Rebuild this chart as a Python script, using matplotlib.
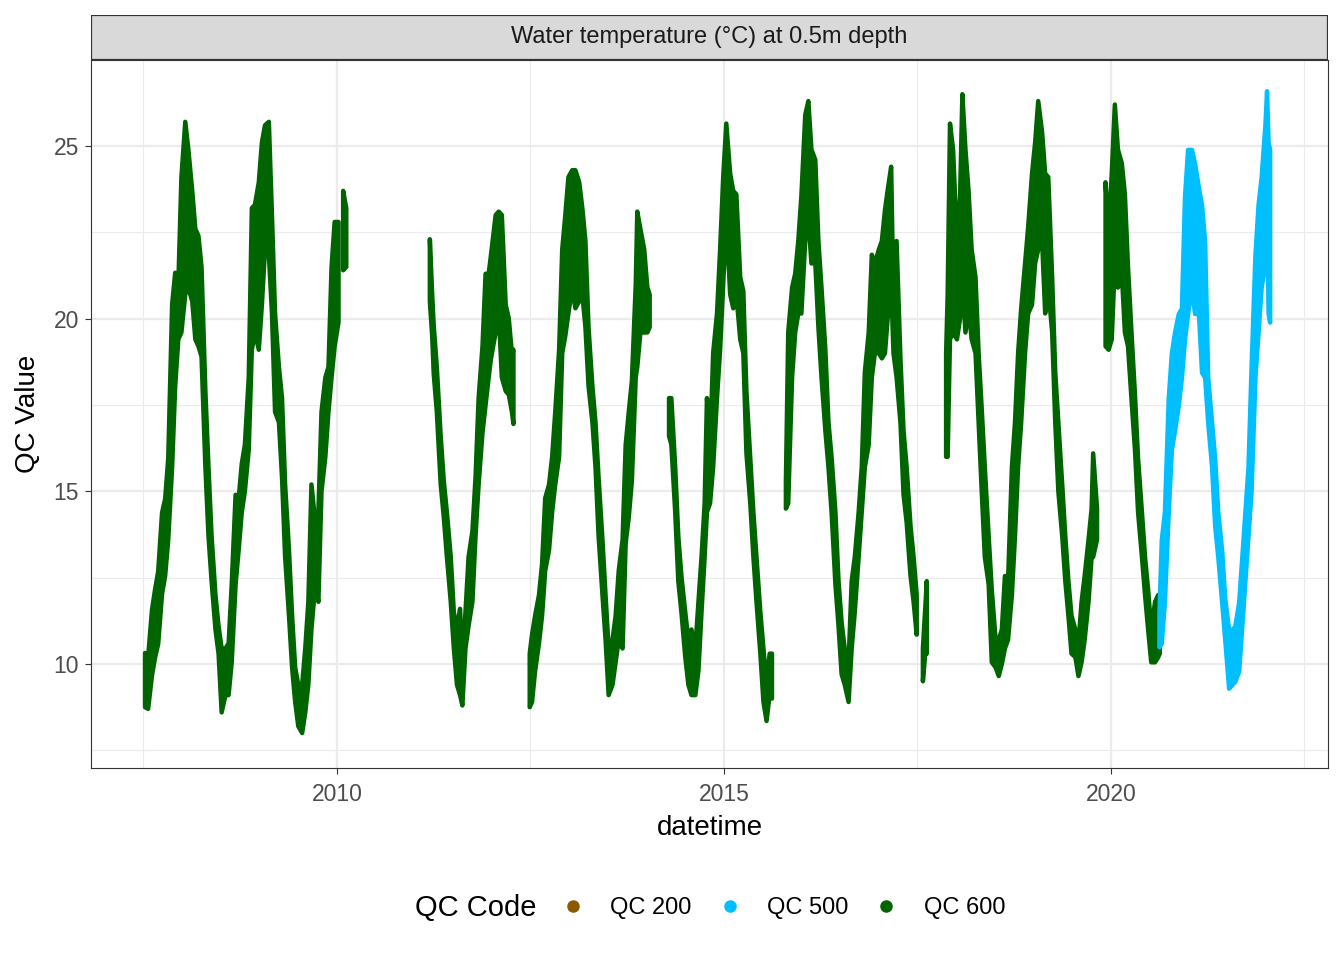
import matplotlib.pyplot as plt
from matplotlib.lines import Line2D
from matplotlib.patches import Rectangle
import numpy as np

# Figure setting
plt.rcParams["font.family"] = ["Liberation Sans", "DejaVu Sans"]
plt.rcParams["figure.dpi"] = 100
plt.rcParams["figure.facecolor"] = "white"

# data: decimal year, lower and upper edge of the daily scatter
# NaN marks a gap in the record
qc600_year = [
    2007.52, 2007.56, 2007.61, 2007.65, 2007.69, 2007.74, 2007.78, 2007.82, 2007.87, 2007.91,
    2007.95, 2007.99, 2008.04, 2008.08, 2008.13, 2008.17, 2008.21, 2008.25, 2008.30, 2008.34,
    2008.38, 2008.43, 2008.47, 2008.51, 2008.56, 2008.60, 2008.64, 2008.69, 2008.73, 2008.77,
    2008.81, 2008.86, 2008.90, 2008.94, 2008.99, 2009.03, 2009.07, 2009.12, 2009.16, 2009.20,
    2009.25, 2009.29, 2009.33, 2009.38, 2009.42, 2009.46, 2009.50, 2009.55, 2009.59, 2009.63,
    2009.67, 2009.72, 2009.76, 2009.80, 2009.85, 2009.89, 2009.93, 2009.97, 2010.02, np.nan,
    2010.08, 2010.12, np.nan,
    2011.20, 2011.23, 2011.25, 2011.29, 2011.34, 2011.38, 2011.42, 2011.47, 2011.51, 2011.55,
    2011.59, 2011.62, 2011.66, 2011.70, 2011.75, 2011.79, 2011.83, 2011.88, 2011.92, 2011.96,
    2011.99, 2012.05, 2012.09, 2012.13, 2012.18, 2012.22, 2012.26, 2012.28, np.nan,
    2012.49, 2012.52, 2012.56, 2012.61, 2012.65, 2012.69, 2012.74, 2012.78, 2012.82, 2012.87,
    2012.91, 2012.95, 2012.99, 2013.04, 2013.08, 2013.13, 2013.17, 2013.21, 2013.25, 2013.30,
    2013.34, 2013.38, 2013.43, 2013.47, 2013.51, 2013.56, 2013.60, 2013.64, 2013.69, 2013.73,
    2013.77, 2013.81, 2013.86, 2013.88, 2013.92, 2013.97, 2014.01, 2014.04, np.nan,
    2014.29, 2014.32, 2014.37, 2014.41, 2014.45, 2014.50, 2014.54, 2014.58, 2014.63, 2014.67,
    2014.71, 2014.75, 2014.78, 2014.82, 2014.86, 2014.91, 2014.95, 2014.99, 2015.03, 2015.08,
    2015.12, 2015.16, 2015.21, 2015.25, 2015.29, 2015.34, 2015.38, 2015.42, 2015.47, 2015.51,
    2015.55, 2015.59, 2015.62, np.nan,
    2015.80, 2015.83, 2015.88, 2015.92, 2015.96, 2016.00, 2016.05, 2016.09, 2016.13, 2016.18,
    2016.22, 2016.26, 2016.31, 2016.35, 2016.39, 2016.44, 2016.48, 2016.52, 2016.56, 2016.61,
    2016.65, 2016.69, 2016.74, 2016.78, 2016.82, 2016.87, 2016.91, 2016.95, 2017.00, 2017.04,
    2017.08, 2017.12, 2017.16, 2017.19, 2017.23, 2017.28, 2017.32, 2017.36, 2017.41, 2017.45,
    2017.49, np.nan,
    2017.57, 2017.60, 2017.62, np.nan,
    2017.87, 2017.89, 2017.92, 2017.96, 2018.01, 2018.05, 2018.08, 2018.12, 2018.16, 2018.20,
    2018.25, 2018.29, 2018.33, 2018.37, 2018.42, 2018.46, 2018.51, 2018.55, 2018.59, 2018.63,
    2018.67, 2018.72, 2018.76, 2018.80, 2018.84, 2018.89, 2018.93, 2018.98, 2019.02, 2019.06,
    2019.11, 2019.15, 2019.19, 2019.24, 2019.28, 2019.32, 2019.37, 2019.41, 2019.45, 2019.49,
    2019.54, 2019.58, 2019.62, 2019.66, 2019.71, 2019.75, 2019.77, 2019.82, np.nan,
    2019.93, 2019.97, 2020.01, 2020.05, 2020.09, 2020.14, 2020.18, 2020.22, 2020.27, 2020.31,
    2020.35, 2020.40, 2020.44, 2020.48, 2020.52, 2020.57, 2020.61, 2020.63,
]
qc600_low = [
    8.75, 8.7, 9.67, 10.19, 10.58, 12.03, 12.55, 13.6, 15.7, 18.05,
    19.4, 19.6, 20.7, 20.9, 20.5, 19.4, 19.2, 18.9, 15.7, 13.7,
    12.4, 11.0, 10.3, 8.6, 9.1, 9.1, 10.05, 12.3, 13.3, 14.4,
    15.0, 16.2, 19.1, 19.6, 19.1, 20.4, 22.0, 21.85, 20.15, 17.3,
    17.0, 15.4, 13.1, 11.4, 9.9, 8.9, 8.2, 8.0, 8.6, 9.4,
    11.0, 12.3, 11.8, 15.0, 16.0, 17.3, 18.3, 19.2, 19.9, np.nan,
    21.4, 21.5, np.nan,
    20.5, 19.5, 18.4, 17.3, 15.2, 14.25, 13.1, 11.8, 10.45, 9.4,
    9.1, 8.8, 10.45, 11.1, 11.8, 13.7, 15.2, 16.7, 17.5, 18.3,
    18.85, 19.6, 20.15, 18.3, 17.9, 17.8, 17.3, 16.95, np.nan,
    8.75, 8.9, 9.8, 10.6, 11.4, 12.7, 13.3, 14.4, 15.2, 16.0,
    19.0, 19.5, 20.15, 20.9, 20.3, 20.5, 20.7, 19.75, 18.05, 17.0,
    15.7, 13.7, 12.0, 10.7, 9.1, 9.4, 10.05, 10.7, 10.45, 13.5,
    14.25, 15.3, 18.3, 18.6, 19.6, 19.6, 19.6, 19.75, np.nan,
    16.6, 16.35, 14.4, 12.4, 11.5, 10.2, 9.4, 9.1, 9.1, 9.8,
    11.5, 13.1, 14.4, 14.65, 15.7, 17.7, 19.1, 21.0, 22.9, 20.7,
    20.3, 20.7, 19.4, 19.0, 16.1, 14.65, 13.1, 11.8, 10.3, 8.9,
    8.35, 9.1, 9.0, np.nan,
    14.5, 14.65, 18.3, 19.6, 20.15, 20.15, 22.25, 22.9, 21.6, 21.6,
    19.75, 18.3, 16.75, 15.7, 14.4, 12.3, 11.1, 9.7, 9.4, 8.9,
    10.45, 11.5, 13.1, 14.4, 15.7, 16.35, 18.3, 19.0, 19.0, 18.85,
    19.0, 20.15, 21.0, 19.0, 18.3, 17.0, 14.9, 14.1, 12.55, 11.8,
    10.85, np.nan,
    9.5, 10.3, 10.3, np.nan,
    16.0, 16.0, 19.4, 19.6, 19.4, 20.0, 21.1, 19.6, 20.3, 19.4,
    19.0, 17.0, 15.0, 13.1, 12.3, 10.05, 9.9, 9.65, 10.0, 10.45,
    10.7, 12.0, 13.7, 15.7, 17.0, 19.0, 20.15, 20.4, 21.6, 22.0,
    22.25, 20.15, 20.9, 19.6, 17.0, 15.0, 13.7, 12.4, 11.4, 10.3,
    10.2, 9.65, 10.05, 10.7, 11.8, 13.1, 13.1, 13.6, np.nan,
    19.2, 19.1, 19.4, 21.6, 20.9, 21.3, 19.6, 19.2, 17.5, 16.2,
    14.4, 13.1, 12.0, 11.0, 10.05, 10.05, 10.2, 10.3,
]
qc600_high = [
    10.32, 10.2, 11.57, 12.16, 12.68, 14.38, 14.78, 15.96, 20.41, 21.33,
    21.0, 24.1, 25.7, 24.9, 23.7, 22.6, 22.4, 21.5, 17.9, 15.7,
    13.7, 12.0, 11.1, 10.45, 10.45, 10.6, 12.3, 14.9, 14.8, 15.8,
    16.35, 18.3, 23.2, 23.3, 23.95, 25.1, 25.6, 25.7, 23.0, 20.15,
    18.6, 17.7, 15.2, 13.3, 11.4, 9.9, 9.4, 9.4, 10.45, 11.8,
    15.2, 14.1, 14.4, 17.3, 18.3, 18.6, 21.5, 22.8, 22.8, np.nan,
    23.7, 23.2, np.nan,
    22.3, 20.7, 19.8, 18.6, 16.6, 15.3, 14.4, 13.1, 11.5, 11.0,
    11.6, 10.05, 11.5, 13.1, 13.85, 15.4, 17.7, 19.2, 21.3, 21.3,
    21.85, 23.0, 23.1, 23.0, 20.4, 20.0, 19.0, 19.1, np.nan,
    10.3, 10.85, 11.4, 12.0, 12.9, 14.8, 15.2, 16.0, 17.3, 19.1,
    22.0, 23.0, 24.1, 24.3, 24.3, 23.95, 23.2, 22.25, 19.75, 18.05,
    17.0, 15.4, 13.6, 12.0, 10.45, 10.7, 11.4, 12.7, 13.6, 16.35,
    17.3, 18.2, 21.0, 23.1, 22.6, 22.0, 20.9, 20.7, np.nan,
    17.7, 17.7, 15.7, 13.7, 12.55, 11.5, 10.7, 11.0, 10.45, 11.8,
    13.1, 14.65, 17.7, 16.2, 19.0, 20.15, 22.0, 24.1, 25.65, 24.2,
    23.7, 23.6, 21.2, 20.8, 17.9, 15.95, 14.4, 13.1, 11.5, 10.45,
    9.4, 10.3, 10.3, np.nan,
    15.3, 19.6, 20.9, 21.3, 22.25, 23.55, 25.9, 26.3, 24.9, 24.6,
    22.25, 20.9, 19.1, 17.0, 16.0, 14.4, 12.4, 11.2, 10.45, 10.05,
    12.4, 13.1, 14.4, 15.7, 18.45, 19.6, 21.85, 21.6, 22.0, 22.25,
    23.15, 23.8, 24.4, 20.5, 22.25, 18.85, 16.75, 15.7, 14.0, 13.1,
    12.0, np.nan,
    10.45, 11.6, 12.4, np.nan,
    19.0, 20.7, 25.65, 24.9, 22.25, 23.5, 26.5, 24.9, 23.7, 22.0,
    21.2, 19.0, 17.4, 15.7, 13.7, 12.15, 10.7, 10.7, 11.0, 12.55,
    12.4, 15.7, 17.0, 19.0, 20.3, 21.6, 22.65, 24.2, 25.1, 26.3,
    25.4, 24.2, 24.1, 21.2, 18.45, 17.0, 15.2, 13.7, 12.4, 11.4,
    11.0, 10.6, 11.8, 12.55, 13.6, 14.5, 16.1, 14.5, np.nan,
    23.95, 22.5, 24.2, 26.2, 24.9, 24.5, 23.6, 21.5, 19.4, 17.8,
    15.95, 14.4, 13.1, 12.15, 11.0, 11.8, 12.0, 11.8,
]

qc500_year = [
    2020.62, 2020.65, 2020.69, 2020.74, 2020.78, 2020.82, 2020.87, 2020.91, 2020.95, 2020.99,
    2021.04, 2021.08, 2021.13, 2021.17, 2021.21, 2021.25, 2021.30, 2021.34, 2021.38, 2021.43,
    2021.47, 2021.52, 2021.56, 2021.60, 2021.65, 2021.69, 2021.73, 2021.77, 2021.81, 2021.86,
    2021.90, 2021.94, 2021.99, 2022.01, 2022.03, 2022.05,
]
qc500_low = [
    10.5, 10.6, 11.8, 14.4, 16.2, 16.75, 17.5, 18.3, 19.4, 20.15,
    20.9, 20.15, 20.15, 18.45, 18.3, 17.0, 15.7, 14.0, 13.1, 11.8,
    10.7, 9.3, 9.4, 9.5, 9.8, 11.1, 12.4, 13.7, 15.0, 18.3,
    19.6, 20.9, 21.6, 23.55, 20.15, 19.9,
]
qc500_high = [
    11.5, 13.6, 14.4, 17.7, 19.0, 19.6, 20.15, 20.3, 23.55, 24.9,
    24.9, 24.5, 23.8, 23.3, 22.25, 18.3, 17.0, 15.95, 14.4, 13.3,
    11.9, 11.0, 11.0, 11.1, 11.8, 13.1, 14.4, 15.7, 18.6, 21.85,
    23.3, 24.1, 25.65, 26.6, 25.1, 24.9,
]

# QC 200 has no visible points but appears in the legend
qc200_year = []
qc200_value = []

qc_labels = ["QC 200", "QC 500", "QC 600"]
qc_colors = ["#8B5A00", "#00BFFF", "#006400"]

xticks = [2010, 2015, 2020]
yticks = [10, 15, 20, 25]

fig = plt.figure(figsize=(13.44, 9.6))
ax = fig.add_axes([91 / 1344, 1 - 768 / 960, (1328 - 91) / 1344, (768 - 60) / 960])

ax.scatter(qc200_year, qc200_value, s=9, color=qc_colors[0], zorder=3)
for yr, lo, hi, col in [(qc600_year, qc600_low, qc600_high, qc_colors[2]),
                        (qc500_year, qc500_low, qc500_high, qc_colors[1])]:
    yr = np.array(yr, dtype=float)
    lo = np.array(lo, dtype=float)
    hi = np.array(hi, dtype=float)
    ax.fill_between(yr, lo, hi, color=col, linewidth=3.2, edgecolor=col,
                    joinstyle="round", zorder=3)

ax.set_xlim(2006.822, 2022.804)
ax.set_ylim(6.989, 27.49)

# grid like theme_bw
ax.set_xticks(xticks)
ax.set_xticklabels([str(t) for t in xticks])
ax.set_yticks(yticks)
ax.set_xticks([2007.5, 2012.5, 2017.5, 2022.5], minor=True)
ax.set_yticks([7.5, 12.5, 17.5, 22.5], minor=True)
ax.grid(which="major", color="#EBEBEB", linewidth=1.6, zorder=0)
ax.grid(which="minor", color="#EBEBEB", linewidth=0.8, zorder=0)
ax.set_axisbelow(True)
ax.tick_params(which="major", length=4.5, width=0.8, color="#333333",
               labelsize=16.5, labelcolor="#4D4D4D", pad=4)
ax.tick_params(axis="x", which="major", pad=6)
ax.tick_params(which="minor", length=0)
for sp in ax.spines.values():
    sp.set_color("#333333")
    sp.set_linewidth(0.8)

ax.set_xlabel("datetime", fontsize=20, labelpad=7)
ax.set_ylabel("QC Value", fontsize=20, labelpad=9)

# facet strip
strip = fig.add_axes([91 / 1344, 1 - 60 / 960, (1328 - 91) / 1344, 45 / 960])
strip.add_patch(Rectangle((0, 0), 1, 1, transform=strip.transAxes,
                          facecolor="#D9D9D9", edgecolor="#333333", linewidth=1.6))
strip.set_xticks([])
strip.set_yticks([])
for sp in strip.spines.values():
    sp.set_visible(False)
strip.text(0.5, 0.5, "Water temperature (°C) at 0.5m depth", ha="center", va="center",
           fontsize=17, color="#1A1A1A", transform=strip.transAxes)

# legend at the bottom
handles = [Line2D([], [], linestyle="none", marker="o", markersize=8,
                  markerfacecolor=c, markeredgecolor=c) for c in qc_colors]
fig.text(415 / 1344, 1 - 908 / 960, "QC Code", fontsize=21, ha="left", va="center")
fig.legend(handles, qc_labels, loc="center left", bbox_to_anchor=(549 / 1344, 1 - 908 / 960),
           ncol=3, frameon=False, fontsize=17, handlelength=2.0, handletextpad=0.6,
           columnspacing=0.6, borderpad=0, borderaxespad=0)

plt.savefig("out.png", dpi=100)
